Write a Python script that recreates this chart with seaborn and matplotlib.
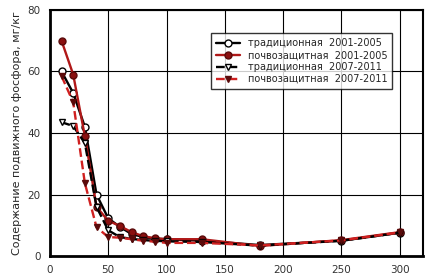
import numpy as np
import pandas as pd
import matplotlib
matplotlib.use("Agg")
from matplotlib import pyplot as plt
import seaborn as sns

# data
x = [10, 20, 30, 40, 50, 60, 70, 80, 90, 100, 130, 180, 250, 300]
trad_0105 = [60, 53, 42, 20, 12.3, 9.5, 7.2, 6.2, 5.7, 5.5, 5.0, 3.6, 5.0, 7.6]
soil_0105 = [70, 59, 39, 16, 11.5, 9.8, 7.8, 6.5, 5.8, 5.5, 5.5, 3.3, 5.2, 7.8]
trad_0711 = [43.5, 42.3, 36.7, 16, 8.4, 6.2, 5.6, 5.2, 5.0, 4.8, 4.6, 3.4, 5.0, 7.6]
soil_0711 = [58.5, 50, 23.7, 9.4, 6.2, 6.0, 5.5, 5.0, 4.7, 4.3, 4.3, 3.5, 5.1, 7.7]

labels = ["традиционная  2001-2005", "почвозащитная  2001-2005",
          "традиционная  2007-2011", "почвозащитная  2007-2011"]
series = [trad_0105, soil_0105, trad_0711, soil_0711]

df = pd.concat([pd.DataFrame({"x": x, "y": s, "series": lab})
                for s, lab in zip(series, labels)])

sns.set_style("white")
plt.rcParams['font.family'] = ['DejaVu Sans']

fig = plt.figure(figsize=(4.3, 2.76), dpi=100)
ax = fig.add_axes([0.116, 0.072, 0.868, 0.892])

styles = [
    dict(color="black", ls="-", marker="o", mfc="white", mec="black"),
    dict(color="#b01818", ls="-", marker="o", mfc="#8a1010", mec="#5a0a0a"),
    dict(color="black", ls="--", marker="v", mfc="white", mec="black"),
    dict(color="#d02020", ls="--", marker="v", mfc="#5a0a0a", mec="#5a0a0a"),
]

for lab, st in zip(labels, styles):
    sub = df[df["series"] == lab]
    sns.lineplot(data=sub, x="x", y="y", ax=ax, label=lab, color=st["color"],
                 linestyle=st["ls"], marker=st["marker"], markersize=5,
                 markerfacecolor=st["mfc"], markeredgecolor=st["mec"],
                 markeredgewidth=1, linewidth=1.7)

ax.set_xlim(0, 320)
ax.set_ylim(0, 80)
ax.set_xticks(np.arange(0, 301, 50))
ax.set_yticks(np.arange(0, 81, 20))
ax.grid(True, color="black", linewidth=0.8)
ax.set_xlabel("")
ax.set_ylabel("Содержание подвижного фосфора, мг/кг", fontsize=8, labelpad=4)
ax.tick_params(labelsize=7.5, colors="#333333", length=3, direction="out")
for side in ["left", "bottom"]:
    ax.spines[side].set_linewidth(2)
    ax.spines[side].set_color("black")
for side in ["right", "top"]:
    ax.spines[side].set_linewidth(1.5)
    ax.spines[side].set_color("black")

leg = ax.legend(loc="upper right", bbox_to_anchor=(0.93, 0.925), fontsize=7,
                frameon=True, fancybox=False, edgecolor="black",
                handlelength=2.5, borderpad=0.5, labelspacing=0.2)
leg.get_frame().set_linewidth(1)

fig.savefig("out.png", dpi=100)
